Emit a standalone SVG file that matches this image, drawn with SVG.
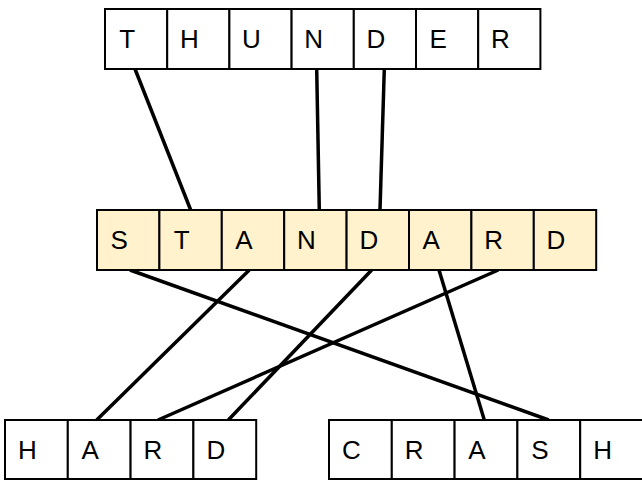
<svg xmlns="http://www.w3.org/2000/svg" width="642" height="480" viewBox="0 0 642 480">
<style>
.c{fill:#ffffff;stroke:#000;stroke-width:2}
.y{fill:#fff2cc;stroke:#000;stroke-width:2}
.t{font-family:"Liberation Sans",Arial,sans-serif;font-size:26px;fill:#000;text-anchor:middle}
.e{stroke:#000;stroke-width:3.5;fill:none;stroke-linecap:butt}
</style>
<rect width="642" height="480" fill="#fff"/>
<g id="connectors">
<line class="e" x1="135" y1="69" x2="190.7" y2="210"/>
<line class="e" x1="316.7" y1="69" x2="319.3" y2="210"/>
<line class="e" x1="384.3" y1="69" x2="380" y2="210"/>
<line class="e" x1="130" y1="270" x2="548.7" y2="420"/>
<line class="e" x1="249.3" y1="270" x2="96.7" y2="420"/>
<line class="e" x1="371.7" y1="270" x2="228.3" y2="420"/>
<line class="e" x1="439" y1="270" x2="484.3" y2="420"/>
<line class="e" x1="498.3" y1="270" x2="158" y2="420"/>
</g>
<g id="thunder">
<rect class="c" x="105" y="9" width="62.2" height="60"/>
<rect class="c" x="167.2" y="9" width="62.2" height="60"/>
<rect class="c" x="229.4" y="9" width="62.2" height="60"/>
<rect class="c" x="291.6" y="9" width="62.2" height="60"/>
<rect class="c" x="353.8" y="9" width="62.2" height="60"/>
<rect class="c" x="416" y="9" width="62.2" height="60"/>
<rect class="c" x="478.2" y="9" width="62.2" height="60"/>
<text class="t" x="127.1" y="48">T</text>
<text class="t" x="189.3" y="48">H</text>
<text class="t" x="251.5" y="48">U</text>
<text class="t" x="313.7" y="48">N</text>
<text class="t" x="375.9" y="48">D</text>
<text class="t" x="438.1" y="48">E</text>
<text class="t" x="500.3" y="48">R</text>
</g>
<g id="standard">
<rect class="y" x="97" y="210" width="62.4" height="60"/>
<rect class="y" x="159.4" y="210" width="62.4" height="60"/>
<rect class="y" x="221.8" y="210" width="62.4" height="60"/>
<rect class="y" x="284.2" y="210" width="62.4" height="60"/>
<rect class="y" x="346.6" y="210" width="62.4" height="60"/>
<rect class="y" x="409" y="210" width="62.4" height="60"/>
<rect class="y" x="471.4" y="210" width="62.4" height="60"/>
<rect class="y" x="533.8" y="210" width="62.4" height="60"/>
<text class="t" x="119.2" y="249">S</text>
<text class="t" x="181.6" y="249">T</text>
<text class="t" x="244" y="249">A</text>
<text class="t" x="306.4" y="249">N</text>
<text class="t" x="368.8" y="249">D</text>
<text class="t" x="431.2" y="249">A</text>
<text class="t" x="493.6" y="249">R</text>
<text class="t" x="556" y="249">D</text>
</g>
<g id="hard">
<rect class="c" x="5" y="420" width="62.8" height="59"/>
<rect class="c" x="67.8" y="420" width="62.8" height="59"/>
<rect class="c" x="130.6" y="420" width="62.8" height="59"/>
<rect class="c" x="193.4" y="420" width="62.8" height="59"/>
<text class="t" x="27.4" y="459">H</text>
<text class="t" x="90.2" y="459">A</text>
<text class="t" x="153" y="459">R</text>
<text class="t" x="215.8" y="459">D</text>
</g>
<g id="crash">
<rect class="c" x="329" y="420" width="62.8" height="59"/>
<rect class="c" x="391.8" y="420" width="62.8" height="59"/>
<rect class="c" x="454.6" y="420" width="62.8" height="59"/>
<rect class="c" x="517.4" y="420" width="62.8" height="59"/>
<rect class="c" x="580.2" y="420" width="62.8" height="59"/>
<text class="t" x="351.4" y="459">C</text>
<text class="t" x="414.2" y="459">R</text>
<text class="t" x="477" y="459">A</text>
<text class="t" x="539.8" y="459">S</text>
<text class="t" x="602.6" y="459">H</text>
</g>
</svg>
